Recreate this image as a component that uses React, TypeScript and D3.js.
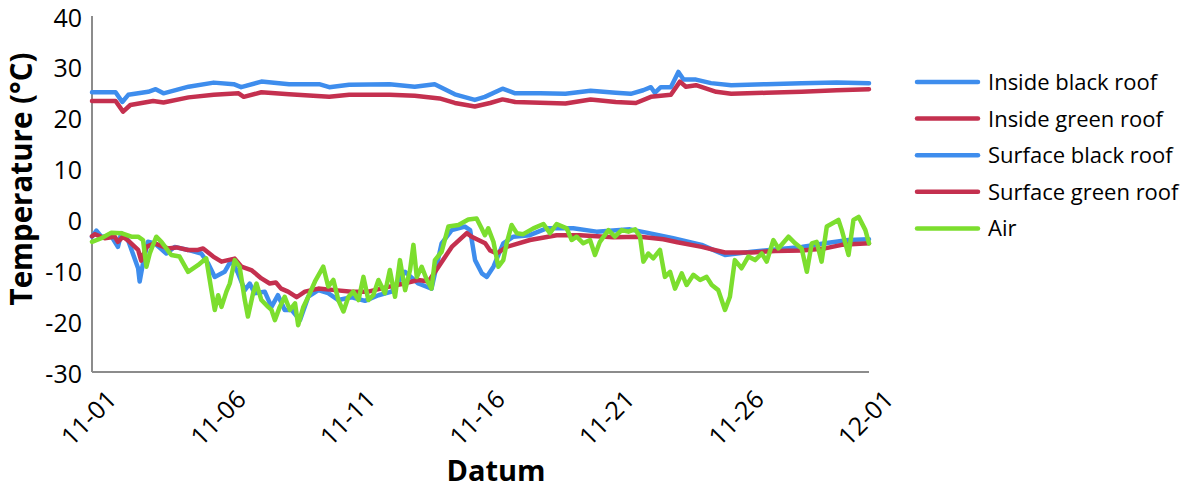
import React from 'react'
import * as d3 from 'd3'

// [day since 11-01, °C]
const insideBlack: [number, number][] = [
  [0, 25.0], [0.91, 25.0], [1.17, 23.1], [1.4, 24.5], [2.17, 25.1], [2.46, 25.6], [2.76, 24.8],
  [3.73, 26.1], [4.7, 26.9], [5.47, 26.6], [5.76, 26.0], [6.54, 27.1], [7.61, 26.6], [8.77, 26.6],
  [9.16, 26.0], [9.93, 26.5], [11.49, 26.6], [12.46, 26.1], [13.23, 26.6], [14.01, 24.6],
  [14.78, 23.5], [15.17, 24.1], [15.85, 25.7], [16.34, 24.8], [17.31, 24.8], [18.28, 24.7],
  [19.25, 25.3], [20.22, 24.9], [20.8, 24.7], [21.28, 25.4], [21.58, 26.0], [21.73, 24.9],
  [21.96, 26.0], [22.35, 26.0], [22.64, 29.0], [22.84, 27.5], [23.32, 27.5], [23.9, 26.8],
  [24.68, 26.4], [26.04, 26.6], [27.4, 26.8], [28.75, 26.9], [30, 26.8],
]

const insideGreen: [number, number][] = [
  [0, 23.3], [0.91, 23.3], [1.2, 21.2], [1.48, 22.5], [2.36, 23.3], [2.76, 23.0], [3.73, 24.0],
  [4.7, 24.5], [5.66, 24.8], [5.86, 24.1], [6.54, 25.0], [7.61, 24.6], [9.16, 24.1], [9.93, 24.5],
  [11.49, 24.5], [12.46, 24.3], [13.42, 23.8], [14.01, 22.9], [14.78, 22.2], [15.37, 22.9],
  [15.85, 23.6], [16.34, 23.1], [18.28, 22.8], [19.25, 23.6], [20.22, 23.1], [21.0, 22.9],
  [21.58, 24.1], [22.35, 24.5], [22.7, 27.1], [22.93, 26.1], [23.32, 26.4], [24.1, 25.1],
  [24.68, 24.7], [26.04, 24.9], [27.4, 25.1], [28.75, 25.4], [30, 25.6],
]

const surfaceBlack: [number, number][] = [
  [0, -3.4], [0.17, -2.2], [0.36, -3.4], [0.75, -3.3], [1.0, -5.4], [1.13, -2.7], [1.39, -4.05],
  [1.78, -9.6], [1.84, -12.2], [1.97, -8.6], [2.16, -4.4], [2.42, -4.7], [2.87, -6.7], [3.19, -5.4],
  [3.71, -6.0], [4.22, -6.7], [4.48, -8.6], [4.74, -11.3], [5.12, -10.3], [5.38, -8.0], [5.64, -10.6],
  [5.9, -13.9], [6.09, -12.6], [6.28, -14.5], [6.67, -14.2], [6.93, -17.2], [7.18, -14.9],
  [7.44, -17.8], [7.71, -17.8], [8.03, -19.8], [8.35, -15.2], [8.74, -13.9], [9.12, -14.5],
  [9.51, -15.85], [10.03, -15.3], [10.54, -16.0], [11.06, -14.9], [11.57, -14.2], [12.09, -10.3],
  [12.6, -12.6], [13.11, -13.6], [13.5, -4.7], [13.89, -2.1], [14.4, -1.4], [14.6, -2.1],
  [14.79, -8.0], [15.05, -10.6], [15.24, -11.3], [15.5, -9.3], [15.88, -4.7], [16.27, -3.4],
  [16.9, -3.1], [17.55, -1.75], [18.58, -1.75], [19.48, -2.4], [20.77, -1.95], [21.41, -2.6],
  [22.44, -3.7], [23.54, -5.0], [24.44, -7.0], [25.47, -6.35], [26.37, -5.9], [27.4, -5.4],
  [28.3, -4.7], [29.21, -4.05], [30, -3.9],
]

const surfaceGreen: [number, number][] = [
  [0, -3.3], [0.1, -2.9], [0.49, -3.7], [0.88, -3.4], [1.0, -4.4], [1.2, -3.4], [1.45, -4.4],
  [1.78, -6.0], [1.9, -8.1], [2.1, -5.4], [2.42, -4.7], [2.93, -5.7], [3.26, -5.5], [3.71, -6.0],
  [4.09, -6.0], [4.29, -5.7], [4.68, -7.3], [5.0, -8.3], [5.25, -8.0], [5.51, -7.7], [5.77, -9.3],
  [6.15, -9.95], [6.54, -11.6], [6.86, -12.6], [7.1, -12.4], [7.3, -13.6], [7.57, -14.2],
  [7.9, -15.3], [8.22, -14.2], [8.74, -13.6], [9.38, -13.9], [10.03, -14.2], [10.67, -14.2],
  [11.31, -13.4], [11.96, -12.7], [12.6, -11.9], [12.99, -12.2], [13.38, -9.3], [13.89, -5.4],
  [14.47, -2.7], [14.66, -3.4], [15.18, -4.7], [15.37, -6.1], [15.63, -6.7], [16.01, -5.4],
  [16.91, -4.05], [17.94, -3.1], [18.84, -3.1], [20.13, -3.5], [21.16, -3.4], [22.06, -3.9],
  [22.6, -4.5], [23.54, -5.4], [24.44, -6.5], [25.47, -6.5], [26.37, -6.2], [27.4, -6.1],
  [28.3, -5.7], [28.95, -5.0], [30, -4.7],
]

const air: [number, number][] = [
  [0, -4.4], [0.36, -3.7], [0.75, -2.6], [1.13, -2.7], [1.52, -3.4], [1.78, -3.4], [1.97, -4.05],
  [2.1, -9.3], [2.23, -6.7], [2.48, -3.4], [2.68, -4.4], [3.06, -7.0], [3.38, -7.3], [3.71, -10.3],
  [4.09, -9.0], [4.41, -7.65], [4.61, -13.9], [4.74, -17.8], [4.87, -14.9], [5.0, -17.2],
  [5.19, -14.2], [5.32, -12.6], [5.51, -8.0], [5.7, -9.3], [5.9, -15.85], [6.02, -19.1],
  [6.22, -14.5], [6.35, -12.6], [6.54, -15.85], [6.8, -17.2], [6.93, -17.8], [7.06, -19.8],
  [7.25, -17.2], [7.44, -15.2], [7.64, -17.8], [7.84, -16.5], [7.96, -20.8], [8.16, -17.2],
  [8.35, -15.2], [8.61, -12.2], [8.93, -9.3], [9.12, -13.2], [9.32, -11.9], [9.51, -15.85],
  [9.71, -18.1], [9.9, -15.2], [10.09, -14.2], [10.29, -15.85], [10.48, -11.3], [10.67, -15.85],
  [10.86, -14.9], [11.06, -11.9], [11.31, -14.5], [11.5, -9.95], [11.7, -15.2], [11.89, -8.0],
  [12.09, -13.9], [12.28, -9.95], [12.41, -5.0], [12.54, -11.3], [12.73, -9.3], [12.93, -11.9],
  [13.11, -13.6], [13.24, -8.0], [13.5, -6.35], [13.76, -1.4], [14.15, -1.1], [14.53, 0.0],
  [14.85, 0.2], [15.04, -1.75], [15.17, -3.1], [15.3, -1.75], [15.5, -4.4], [15.69, -9.3],
  [15.88, -8.0], [16.01, -4.7], [16.2, -1.1], [16.4, -2.7], [16.65, -2.9], [17.04, -1.75],
  [17.43, -0.9], [17.68, -2.7], [17.94, -0.9], [18.33, -1.75], [18.52, -4.05], [18.71, -3.4],
  [18.97, -4.7], [19.23, -4.05], [19.42, -7.0], [19.61, -4.4], [19.94, -2.1], [20.19, -3.4],
  [20.45, -2.1], [20.71, -2.4], [20.97, -1.95], [21.16, -3.4], [21.29, -8.3], [21.48, -6.7],
  [21.67, -7.65], [21.93, -6.0], [22.12, -11.3], [22.32, -10.3], [22.51, -13.6], [22.77, -10.6],
  [22.96, -12.9], [23.22, -10.9], [23.48, -11.9], [23.73, -11.3], [23.93, -12.9], [24.18, -13.9],
  [24.44, -17.8], [24.63, -15.2], [24.82, -8.0], [25.08, -9.6], [25.34, -7.3], [25.6, -8.0],
  [25.86, -6.7], [26.05, -8.3], [26.31, -4.05], [26.5, -5.7], [26.89, -3.4], [27.15, -4.7],
  [27.4, -5.7], [27.6, -10.3], [27.79, -4.7], [27.98, -4.4], [28.17, -8.3], [28.37, -1.4],
  [28.82, -0.1], [28.95, -2.1], [29.21, -7.0], [29.4, -0.1], [29.6, 0.5], [29.86, -2.1], [30, -4.7],
]

const seriesNames = ['Inside black roof', 'Inside green roof', 'Surface black roof', 'Surface green roof', 'Air']
const seriesData = [insideBlack, insideGreen, surfaceBlack, surfaceGreen, air]
const seriesColors = ['#3e8ded', '#c4304f', '#3e8ded', '#c4304f', '#7cde2e']

const xTickDays = [0, 5, 10, 15, 20, 25, 30]
const xTickLabels = ['11-01', '11-06', '11-11', '11-16', '11-21', '11-26', '12-01']
const yTicks = [-30, -20, -10, 0, 10, 20, 30, 40]

const font = "'Open Sans', 'DejaVu Sans', sans-serif"
const plot = { left: 92, right: 869, top: 16, bottom: 372 }

export default function App() {
  const x = d3.scaleLinear().domain([0, 30]).range([plot.left, plot.right])
  const y = d3.scaleLinear().domain([-30, 40]).range([plot.bottom, plot.top])

  const line = d3.line<[number, number]>()
    .x(d => x(d[0]))
    .y(d => y(d[1]))

  return (
    <svg width={1183} height={492} style={{ position: 'absolute', left: 0, top: 0, background: '#fff' }}
      fontFamily={font}>
      {/* axes */}
      <line x1={plot.left} x2={plot.left} y1={plot.top} y2={plot.bottom} stroke='#8c8c8c' strokeWidth={2} />
      <line x1={plot.left} x2={plot.right} y1={plot.bottom} y2={plot.bottom} stroke='#8c8c8c' strokeWidth={2} />

      {yTicks.map(t => (
        <text key={t} x={plot.left - 10} y={y(t) + 10.5} textAnchor='end' fontSize={25} fill='#000'>
          {t}
        </text>
      ))}

      {xTickDays.map((t, i) => (
        <text key={t} transform={`translate(${x(t) + 26},${plot.bottom + 29}) rotate(-45)`}
          textAnchor='end' fontSize={25} fill='#000'>
          {xTickLabels[i]}
        </text>
      ))}

      {/* series */}
      {seriesData.map((d, i) => (
        <path key={seriesNames[i]} d={line(d) || ''} fill='none' stroke={seriesColors[i]}
          strokeWidth={4.5} strokeLinejoin='round' strokeLinecap='round' />
      ))}

      {/* axis titles */}
      <text x={496} y={481} textAnchor='middle' fontSize={29} fontWeight='bold'>
        Datum
      </text>
      <text transform={`translate(32,179) rotate(-90)`}
        textAnchor='middle' fontSize={29.5} fontWeight='bold'>
        Temperature (°C)
      </text>

      {/* legend */}
      {seriesNames.map((name, i) => (
        <g key={name} transform={`translate(917,${82 + i * 36.6})`}>
          <line x1={0} x2={61} y1={0} y2={0} stroke={seriesColors[i]} strokeWidth={4.5} strokeLinecap='round' />
          <text x={71} y={0} dy='0.36em' fontSize={22} fill='#000'>{name}</text>
        </g>
      ))}
    </svg>
  )
}
